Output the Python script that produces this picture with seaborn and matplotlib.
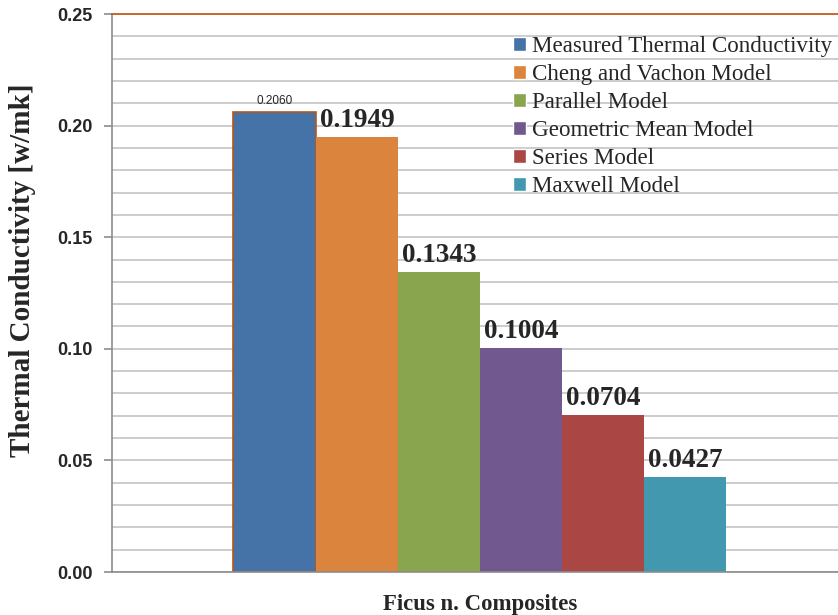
import matplotlib
matplotlib.use("Agg")
import matplotlib.pyplot as plt
import seaborn as sns
import pandas as pd
from matplotlib.ticker import MultipleLocator

# Data
models = ["Measured Thermal Conductivity", "Cheng and Vachon Model", "Parallel Model",
          "Geometric Mean Model", "Series Model", "Maxwell Model"]
values = [0.2060, 0.1949, 0.1343, 0.1004, 0.0704, 0.0427]
colors = ["#4572A7", "#DB843D", "#89A54E", "#71588F", "#AA4643", "#4198AF"]
category = "Ficus n. Composites"

df = pd.DataFrame({"group": [category] * len(models), "model": models, "value": values})

sns.set_style("white")
plt.rcParams['font.family'] = ['Liberation Serif', 'DejaVu Serif']

fig = plt.figure(figsize=(8.38, 6.15), dpi=100)
ax = fig.add_axes([0.1337, 0.0699, 0.878, 0.9073])

sns.barplot(data=df, x="group", y="value", hue="model", palette=colors,
            width=0.67, gap=0, saturation=1, ax=ax, legend=True)

# bar edges: only first bar has brownish outline
for i, bar in enumerate(ax.patches[:len(values)]):
    if i == 0:
        bar.set_edgecolor("#B5561B")
        bar.set_linewidth(1.2)
    else:
        bar.set_edgecolor("none")

ax.set_xlim(-0.5, 0.5)
ax.set_ylim(0, 0.25)
ax.yaxis.set_major_locator(MultipleLocator(0.05))
ax.yaxis.set_minor_locator(MultipleLocator(0.01))
ax.grid(True, which="both", axis="y", color="#C4C4C4", linewidth=1.2)
ax.set_axisbelow(True)
ax.yaxis.set_major_formatter(matplotlib.ticker.FormatStrFormatter("%.2f"))

for lab in ax.get_yticklabels():
    lab.set_family("Liberation Sans")
    lab.set_fontweight("bold")
    lab.set_fontsize(13)
ax.tick_params(axis="y", which="major", left=True, length=6, width=1.2, color="#8C8C8C", pad=8)
ax.tick_params(axis="y", which="minor", left=False)
ax.tick_params(axis="x", bottom=False, labelsize=16.4, pad=12)
for lab in ax.get_xticklabels():
    lab.set_fontweight("bold")

ax.set_xlabel("")
ax.set_ylabel("Thermal Conductivity [w/mk]", fontsize=21, fontweight="bold")
ax.yaxis.set_label_coords(-0.104, 0.54)

for s in ["left", "bottom"]:
    ax.spines[s].set_color("#8C8C8C")
    ax.spines[s].set_linewidth(1.2)
ax.spines["right"].set_visible(False)
ax.spines["top"].set_color("#C0601A")
ax.spines["top"].set_linewidth(1.3)

# value labels
for i, (bar, v) in enumerate(zip(ax.patches[:len(values)], values)):
    if i == 0:
        ax.annotate(f"{v:.4f}", xy=(bar.get_x() + bar.get_width() / 2, v),
                    xytext=(0, 4), textcoords="offset points", ha="center", va="bottom",
                    fontsize=8.5, family="Liberation Sans")
    else:
        ax.annotate(f"{v:.4f}", xy=(bar.get_x(), v), xytext=(3, 3),
                    textcoords="offset points", ha="left", va="bottom",
                    fontsize=19.5, fontweight="bold")

handles, labels = ax.get_legend_handles_labels()
ax.legend(handles, labels, loc="upper left", bbox_to_anchor=(0.612, 0.941),
          bbox_transform=fig.transFigure, frameon=False, fontsize=16.6,
          handlelength=0.55, handleheight=0.55, handletextpad=0.3, labelspacing=0.3,
          borderaxespad=0, borderpad=0)

fig.savefig("out.png", dpi=100)
